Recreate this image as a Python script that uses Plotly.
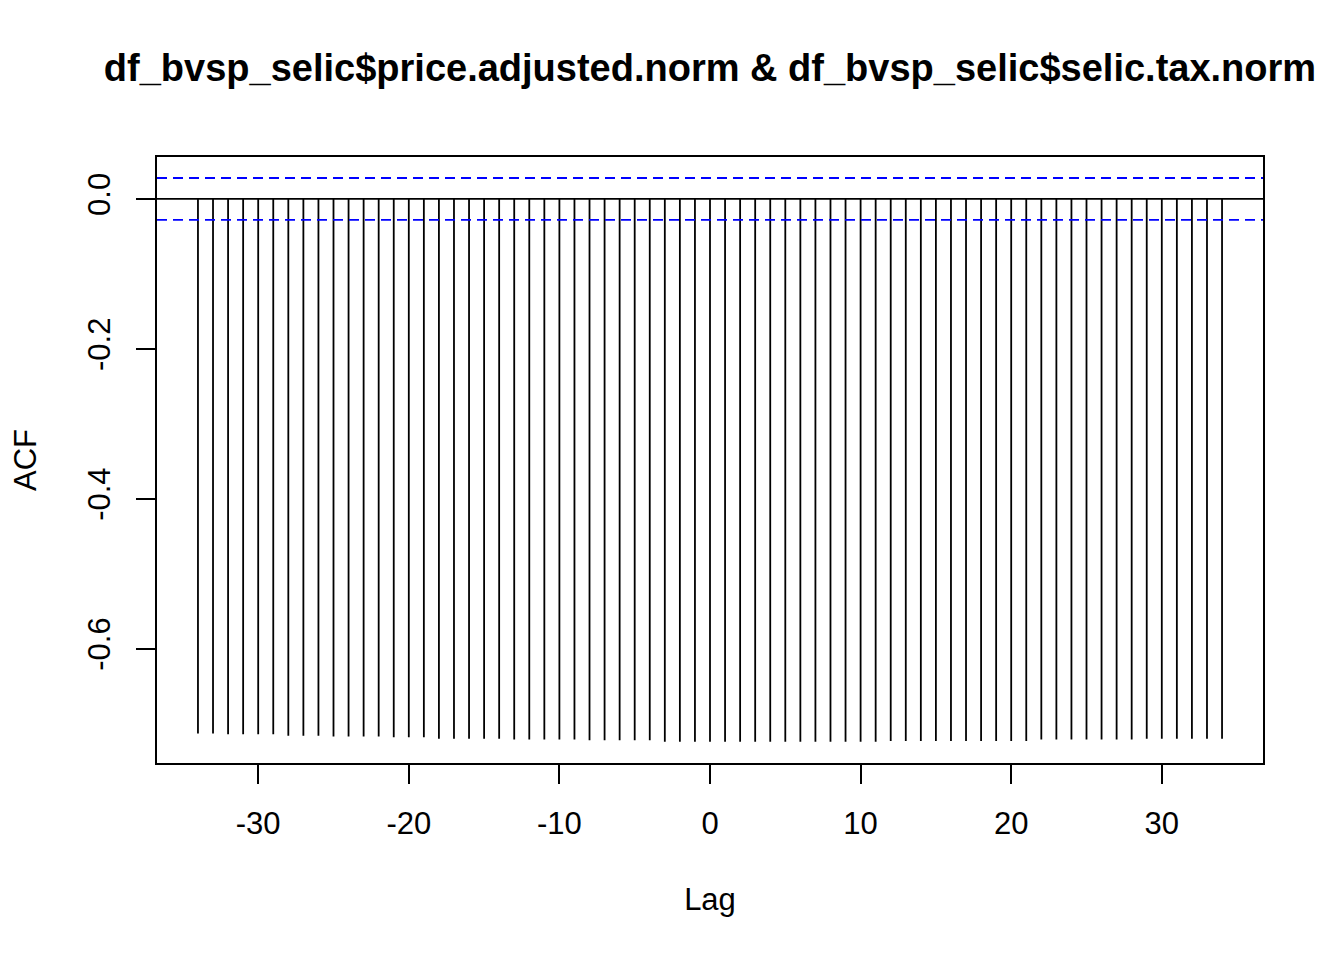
import plotly.graph_objects as go

lags = list(range(-34, 35))
acf_values = (
    [-0.713, -0.713, -0.714, -0.714, -0.714, -0.714, -0.716, -0.716, -0.716,
     -0.717, -0.717, -0.717, -0.717, -0.718, -0.718, -0.718, -0.720, -0.720,
     -0.720, -0.720, -0.720, -0.721, -0.721]
    + [-0.721, -0.721, -0.721, -0.722, -0.722, -0.722, -0.722, -0.722]
    + [-0.724] * 15
    + [-0.723] * 10
    + [-0.721] * 7
    + [-0.720] * 6
)
ci = 0.028
x_ticks = [-30, -20, -10, 0, 10, 20, 30]
x_tick_labels = ["-30", "-20", "-10", "0", "10", "20", "30"]
y_ticks = [0.0, -0.2, -0.4, -0.6]
y_tick_labels = ["0.0", "-0.2", "-0.4", "-0.6"]
title_text = "df_bvsp_selic$price.adjusted.norm & df_bvsp_selic$selic.tax.norm"

xs, ys = [], []
for lag, v in zip(lags, acf_values):
    xs += [lag, lag, None]
    ys += [0, v, None]

fig = go.Figure()
fig.add_trace(go.Scatter(x=xs, y=ys, mode="lines",
                         line=dict(color="black", width=1.8),
                         hoverinfo="skip", showlegend=False))

fig.add_hline(y=0, line=dict(color="black", width=1.8))
for yv in (ci, -ci):
    fig.add_hline(y=yv, line=dict(color="#0000FF", width=1.8, dash="10px,6px"))

FONT = "Liberation Sans, Arial, sans-serif"
W, H = 1336, 952
fig.update_layout(
    width=W, height=H,
    margin=dict(l=149, r=81, t=149, b=197),
    paper_bgcolor="white", plot_bgcolor="white",
    font=dict(family=FONT, size=31, color="black"),
    title=dict(text=title_text, x=(149 + 1255) / 2 / W, xanchor="center",
               y=1 - 60 / H, yanchor="middle",
               font=dict(family=FONT, size=38, color="black", weight="bold")),
    showlegend=False,
)
fig.update_xaxes(
    range=[-36.72, 36.72], tickvals=x_ticks, ticktext=x_tick_labels,
    ticks="outside", ticklen=19, tickwidth=2, tickcolor="black",
    showline=True, linecolor="black", linewidth=2, mirror=True,
    showgrid=False, zeroline=False, ticklabelstandoff=13,
    title=dict(text="Lag", standoff=48, font=dict(size=31)),
)
fig.update_yaxes(
    range=[-0.7525, 0.056], tickvals=y_ticks, ticktext=y_tick_labels,
    tickangle=-90,
    ticks="outside", ticklen=19, tickwidth=2, tickcolor="black",
    showline=True, linecolor="black", linewidth=2, mirror=True,
    showgrid=False, zeroline=False, ticklabelstandoff=14,
    title=dict(text="ACF", standoff=37, font=dict(size=31)),
)
fig.write_html("out.html")
